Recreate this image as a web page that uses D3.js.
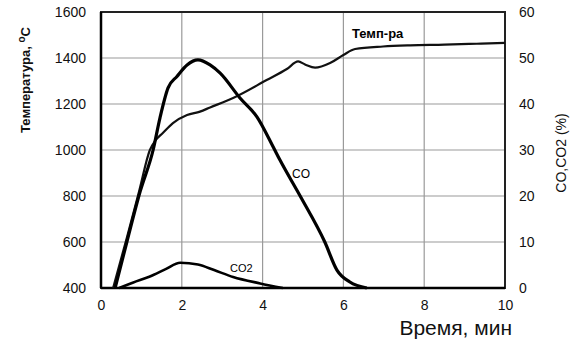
<!DOCTYPE html>
<html><head><meta charset="utf-8">
<script src="https://cdn.jsdelivr.net/npm/d3@7"></script>
<style>body{margin:0;background:#fff}text{font-family:"Liberation Sans",Arial,sans-serif}</style>
</head><body><svg id="c" width="571" height="343"></svg>
<script>
const xTicks=[0,2,4,6,8,10];
const tempTicks=[400,600,800,1000,1200,1400,1600];
const pctTicks=[0,10,20,30,40,50,60];
const tempTime=[0.3,0.65,0.95,1.21,1.35,1.53,1.78,2.13,2.45,2.7,3.27,4.1,4.6,4.88,5.05,5.3,5.67,6.0,6.29,6.98,7.65,8.5,9.3,10];
const tempVal=[400,625,825,1000,1042,1074,1117,1152,1167,1185,1226,1304,1352,1385,1372,1358,1378,1413,1439,1450,1455,1458,1462,1466];
const coTime=[0.35,0.64,0.97,1.29,1.46,1.66,1.88,2.13,2.4,2.7,2.95,3.44,3.86,4.26,4.43,4.93,5.54,5.84,6.16,6.58];
const coVal=[0,10,21,30,37,43.5,46,48.5,49.6,48.5,46.7,41.3,37.2,30.7,27.8,20,10,3.9,1.3,0];
const co2Time=[0.45,0.8,1.21,1.6,1.96,2.4,2.8,3.27,3.94,4.5];
const co2Val=[0,1.2,2.5,4.1,5.5,5.1,3.9,2.4,1.0,0];

const svg=d3.select("#c");
const L=101,R=505,T=12,B=288;
const x=d3.scaleLinear().domain([0,10]).range([L,R]);
const yT=d3.scaleLinear().domain([400,1600]).range([B,T]);
const yP=d3.scaleLinear().domain([0,60]).range([B,T]);

// grid
svg.append("g").selectAll("line").data(tempTicks.slice(1,-1)).join("line")
 .attr("x1",L).attr("x2",R).attr("y1",d=>yT(d)).attr("y2",d=>yT(d))
 .attr("stroke","#9a9a9a").attr("stroke-width",1.2);
svg.append("g").selectAll("line").data(xTicks.slice(1,-1)).join("line")
 .attr("y1",T).attr("y2",B).attr("x1",d=>x(d)).attr("x2",d=>x(d))
 .attr("stroke","#9a9a9a").attr("stroke-width",1.2);

// axes
const fmt=d3.format("d");
const ax=svg.append("g").attr("transform",`translate(0,${B})`).call(d3.axisBottom(x).tickValues(xTicks).tickFormat(fmt).tickSize(0).tickPadding(12));
const al=svg.append("g").attr("transform",`translate(${L},0)`).call(d3.axisLeft(yT).tickValues(tempTicks).tickFormat(fmt).tickSize(0).tickPadding(15));
const ar=svg.append("g").attr("transform",`translate(${R},0)`).call(d3.axisRight(yP).tickValues(pctTicks).tickFormat(fmt).tickSize(0).tickPadding(14));
[ax,al,ar].forEach(g=>{g.select(".domain").remove();g.selectAll("text").attr("font-size",14).attr("fill","#111").attr("font-family","Liberation Sans, Arial, sans-serif");});

// frame
svg.append("rect").attr("x",L).attr("y",T).attr("width",R-L).attr("height",B-T)
 .attr("fill","none").attr("stroke","#222").attr("stroke-width",2);
svg.append("line").attr("x1",L).attr("x2",R).attr("y1",B).attr("y2",B).attr("stroke","#000").attr("stroke-width",2.5);
svg.append("line").attr("x1",L).attr("x2",L).attr("y1",T).attr("y2",B).attr("stroke","#000").attr("stroke-width",2.5);

const lineT=d3.line().x(d=>x(d[0])).y(d=>yT(d[1])).curve(d3.curveMonotoneX);
const lineP=d3.line().x(d=>x(d[0])).y(d=>yP(d[1])).curve(d3.curveMonotoneX);
svg.append("path").datum(tempTime.map((t,i)=>[t,tempVal[i]])).attr("d",lineT)
 .attr("fill","none").attr("stroke","#111").attr("stroke-width",2.2);
svg.append("path").datum(coTime.map((t,i)=>[t,coVal[i]])).attr("d",lineP)
 .attr("fill","none").attr("stroke","#000").attr("stroke-width",3.2);
svg.append("path").datum(co2Time.map((t,i)=>[t,co2Val[i]])).attr("d",lineP)
 .attr("fill","none").attr("stroke","#000").attr("stroke-width",2.6);

// labels
svg.append("text").attr("x",352).attr("y",38).attr("font-size",13).attr("font-weight","bold").text("Темп-ра");
svg.append("text").attr("x",292).attr("y",178).attr("font-size",12).text("CO");
svg.append("text").attr("x",230).attr("y",272).attr("font-size",11).text("CO2");
svg.append("text").attr("x",512).attr("y",335).attr("text-anchor","end").attr("font-size",21).attr("fill","#111").text("Время, мин");
const lt=svg.append("text").attr("transform","translate(30,80) rotate(-90)").attr("text-anchor","middle")
 .attr("font-size",13).attr("font-weight","bold").attr("fill","#111");
lt.append("tspan").text("Температура, ");
lt.append("tspan").attr("dy",-5).attr("font-size",10).text("o");
lt.append("tspan").attr("dy",5).text("C");
svg.append("text").attr("transform","translate(566,153) rotate(-90)").attr("text-anchor","middle")
 .attr("font-size",14).attr("fill","#111").text("CO,CO2 (%)");
</script></body></html>
